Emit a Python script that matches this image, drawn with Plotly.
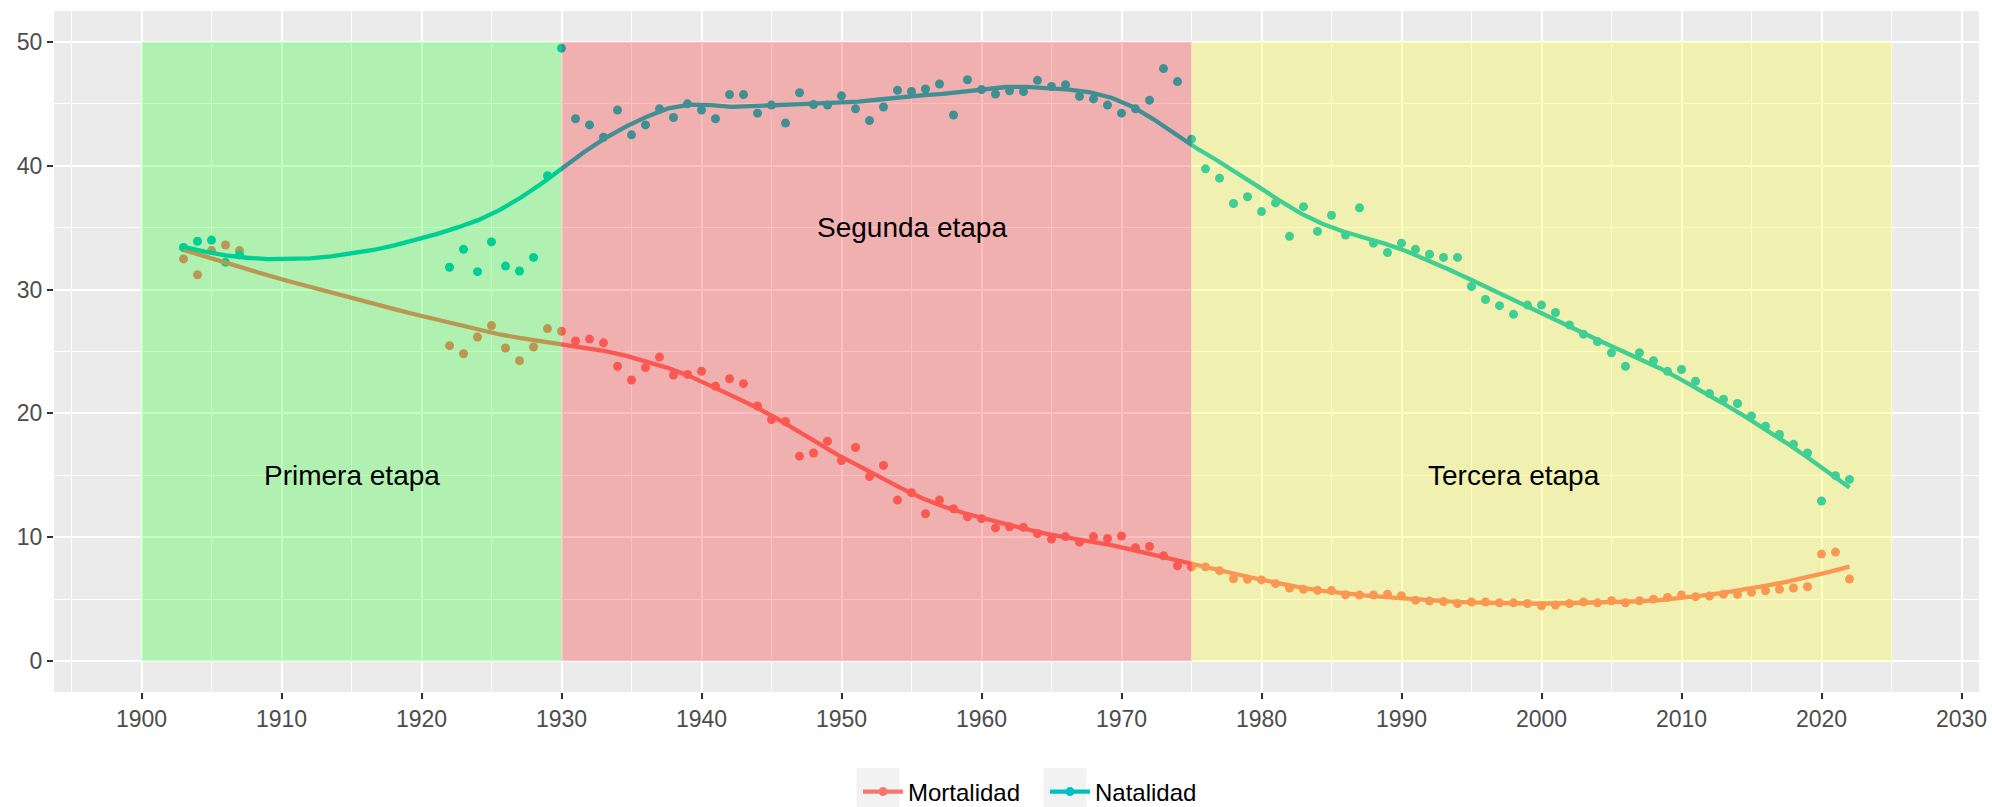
import numpy as np
import plotly.graph_objects as go

# ---------------- data ----------------
years = list(range(1903, 1908)) + list(range(1922, 2023))

natalidad = [
    33.4, 33.9, 34.0, 32.2, 32.8,
    31.8, 33.25, 31.45, 33.85, 31.9, 31.5, 32.6, 39.2, 49.5,
    43.8, 43.3, 42.3, 44.5, 42.5, 43.3, 44.6, 43.9, 45.0, 44.5,
    43.8, 45.75, 45.75, 44.25, 44.9, 43.45, 45.9, 44.95, 44.9, 45.65,
    44.6, 43.65, 44.75, 46.1, 46.0, 46.2, 46.6, 44.1, 46.95, 46.15,
    45.8, 46.05, 46.0, 46.9, 46.4, 46.55, 45.6, 45.4, 44.9, 44.25,
    44.6, 45.3, 47.85, 46.8, 42.15, 39.75, 39.0, 36.95, 37.5, 36.3,
    37.0, 34.3, 36.7, 34.7, 36.0, 34.4, 36.6, 33.75, 33.0, 33.75,
    33.25, 32.85, 32.6, 32.6, 30.25, 29.2, 28.7, 28.0, 28.75, 28.75,
    28.15, 27.15, 26.4, 25.8, 24.9, 23.8, 24.9, 24.25, 23.4, 23.55,
    22.6, 21.6, 21.15, 20.8, 19.8, 18.97, 18.3, 17.5, 16.8, 12.93,
    14.97, 14.67,
]

mortalidad = [
    32.48, 31.19, 33.15, 33.6, 33.15,
    25.47, 24.82, 26.17, 27.09, 25.28, 24.26, 25.36, 26.85, 26.63,
    25.85, 26.0, 25.7, 23.8, 22.7, 23.7, 24.55, 23.1, 23.15, 23.4,
    22.2, 22.8, 22.4, 20.6, 19.5, 19.35, 16.55, 16.8, 17.75, 16.2,
    17.25, 14.9, 15.8, 13.0, 13.6, 11.9, 13.0, 12.3, 11.65, 11.5,
    10.75, 10.85, 10.8, 10.3, 9.85, 10.05, 9.6, 10.05, 9.9, 10.1,
    9.15, 9.25, 8.5, 7.7, 7.6, 7.6, 7.3, 6.65, 6.6, 6.55,
    6.25, 5.9, 5.8, 5.72, 5.69, 5.35, 5.33, 5.33, 5.4, 5.28,
    4.92, 4.85, 4.8, 4.65, 4.77, 4.77, 4.7, 4.7, 4.65, 4.47,
    4.52, 4.65, 4.77, 4.7, 4.87, 4.7, 4.87, 5.0, 5.14, 5.33,
    5.2, 5.25, 5.4, 5.38, 5.55, 5.68, 5.79, 5.9, 6.0, 8.64,
    8.8, 6.62,
]

series_names = ["Mortalidad", "Natalidad"]
series_colors = ["#F8766D", "#00BFC4"]

etapas = ["Primera etapa", "Segunda etapa", "Tercera etapa"]
etapa_inicio = [1900, 1930, 1975]
etapa_fin = [1930, 1975, 2025]
etapa_fill = ["rgba(0,255,0,0.25)", "rgba(255,0,0,0.25)", "rgba(255,255,0,0.25)"]
etapa_label_x = [1915, 1955, 1998]
etapa_label_y = [15, 35, 15]

x_ticks = list(range(1900, 2031, 10))
y_ticks = [0, 10, 20, 30, 40, 50]

SMOOTH_SPAN = 0.35


# ---------------- loess smoother as in R (kd-tree + cubic Hermite) ----------------
def _local_fit(x, y, x0, q):
    d = np.abs(x - x0)
    h = np.sort(d)[q - 1]
    u = d / h
    w = np.where(u < 1, (1 - u ** 3) ** 3, 0.0)
    X = np.vstack([np.ones(len(x)), x - x0, (x - x0) ** 2]).T
    sw = np.sqrt(w)
    beta = np.linalg.lstsq(X * sw[:, None], y * sw, rcond=None)[0]
    return beta[0], beta[1]


def loess(x, y, xs, span=0.75, cell=0.2):
    x = np.asarray(x, float)
    y = np.asarray(y, float)
    order = np.argsort(x)
    x, y = x[order], y[order]
    n = len(x)
    q = int(np.floor(n * span))
    fc = int(np.floor(n * span * cell))
    mu = 0.005 * (x.max() - x.min())
    leaves = []

    def split(l, u, vlo, vhi):
        if u - l + 1 <= fc:
            leaves.append((vlo, vhi))
            return
        m = (l + u) // 2
        xi = (x[m] + x[m + 1]) / 2
        split(l, m, vlo, xi)
        split(m + 1, u, xi, vhi)

    split(0, n - 1, x.min() - mu, x.max() + mu)
    cache = {}

    def vfit(v):
        if v not in cache:
            cache[v] = _local_fit(x, y, v, q)
        return cache[v]

    out = []
    for xe in xs:
        for a, b in leaves:
            if a <= xe <= b:
                break
        f0, d0 = vfit(a)
        f1, d1 = vfit(b)
        L = b - a
        t = (xe - a) / L
        phi0 = (1 - t) ** 2 * (1 + 2 * t)
        phi1 = t ** 2 * (3 - 2 * t)
        psi0 = t * (1 - t) ** 2
        psi1 = -t ** 2 * (1 - t)
        out.append(phi0 * f0 + phi1 * f1 + (psi0 * d0 + psi1 * d1) * L)
    return np.array(out)


xs = np.linspace(min(years), max(years), 80)

fig = go.Figure()
FONT = "Liberation Sans, Arial, sans-serif"

for name, vals, col in zip(series_names, [mortalidad, natalidad], series_colors):
    fig.add_trace(go.Scatter(x=years, y=vals, mode="markers",
                             marker=dict(color=col, size=9, line=dict(width=0)),
                             showlegend=False, hoverinfo="skip"))

for name, vals, col in zip(series_names, [mortalidad, natalidad], series_colors):
    fig.add_trace(go.Scatter(x=xs, y=loess(years, vals, xs, SMOOTH_SPAN), mode="lines",
                             line=dict(color=col, width=4.3),
                             showlegend=False, hoverinfo="skip"))

for name, col in zip(series_names, series_colors):
    fig.add_trace(go.Scatter(x=[None], y=[None], mode="lines+markers", name=name,
                             line=dict(color=col, width=4.3),
                             marker=dict(color=col, size=9)))

for x0, x1, fc in zip(etapa_inicio, etapa_fin, etapa_fill):
    fig.add_shape(type="rect", x0=x0, x1=x1, y0=0, y1=50, xref="x", yref="y",
                  fillcolor=fc, line=dict(width=0), layer="above")

# legend key boxes (ggplot legend.key background)
for bx0, bx1 in [(0.41688, 0.43922), (0.51403, 0.53636)]:
    fig.add_shape(type="rect", xref="paper", yref="paper", x0=bx0, x1=bx1,
                  y0=-0.1117, y1=-0.172, fillcolor="#F2F2F2", line=dict(width=0),
                  layer="below")

for t, lx, ly in zip(etapas, etapa_label_x, etapa_label_y):
    fig.add_annotation(x=lx, y=ly, text=t, showarrow=False,
                       font=dict(family=FONT, size=28, color="black"))

axis_common = dict(
    showgrid=True, gridcolor="white", gridwidth=2.2,
    zeroline=False, showline=False,
    ticks="outside", ticklen=6, tickwidth=2, tickcolor="#333333",
    tickfont=dict(family=FONT, size=23, color="#4D4D4D"),
)

fig.update_layout(
    width=1992, height=807,
    margin=dict(l=54, r=13, t=11, b=115, autoexpand=False),
    paper_bgcolor="white", plot_bgcolor="#EBEBEB",
    font=dict(family=FONT),
    xaxis=dict(range=[1893.75, 2031.25], tickvals=x_ticks, ticktext=[str(v) for v in x_ticks],
               minor=dict(dtick=5, tick0=1895, showgrid=True, gridcolor="white", gridwidth=1.1),
               automargin=False, **axis_common),
    yaxis=dict(range=[-2.5, 52.5], tickvals=y_ticks, ticktext=[str(v) for v in y_ticks],
               minor=dict(dtick=5, tick0=5, showgrid=True, gridcolor="white", gridwidth=1.1),
               automargin=False, **axis_common),
    legend=dict(orientation="h", xref="paper", x=0.41766, xanchor="left",
                yref="container", y=0.0186, yanchor="middle",
                font=dict(family=FONT, size=24, color="black"), itemwidth=40,
                entrywidth=132, entrywidthmode="pixels",
                bgcolor="rgba(0,0,0,0)"),
    showlegend=True,
)

fig.write_html(
    "out.html",
    config={"displayModeBar": False},
    post_script="document.body.style.margin='0px';"
                "document.documentElement.style.overflow='hidden';",
)
